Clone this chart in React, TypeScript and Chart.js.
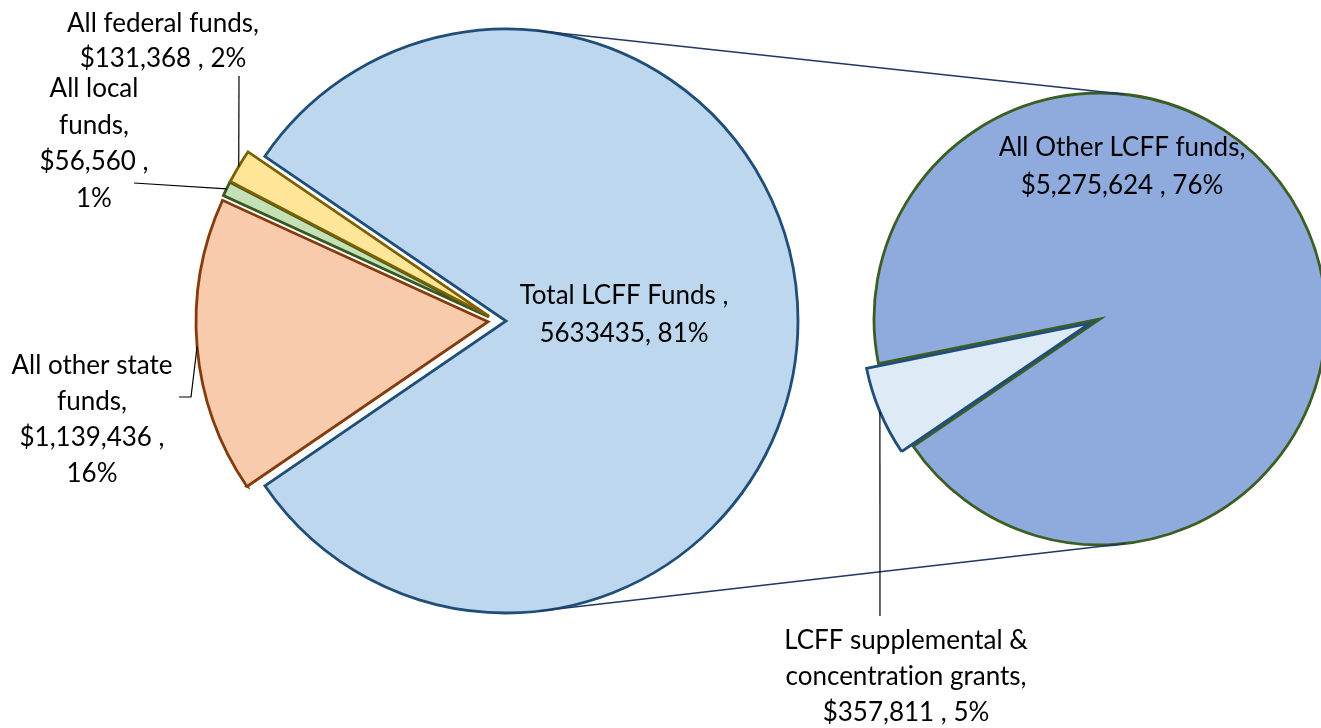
import { useEffect, useRef } from "react";
import { Chart, registerables } from "chart.js";

Chart.register(...registerables);

const W = 1321;
const H = 728;

// ---- data ----
const leftCategories = ["Total LCFF Funds", "All other state funds", "All local funds", "All federal funds"];
const leftValues = [5633435, 1139436, 56560, 131368];
const leftLabels = [
  ["Total LCFF Funds ,", "5633435, 81%"],
  ["All other state", "funds,", "$1,139,436 ,", "16%"],
  ["All local", "funds,", "$56,560 ,", "1%"],
  ["All federal funds,", "$131,368 , 2%"],
];

const rightCategories = ["All Other LCFF funds", "LCFF supplemental & concentration grants"];
const rightValues = [5275624, 357811];
const rightLabels = [
  ["All Other LCFF funds,", "$5,275,624 , 76%"],
  // zero-width non-joiner keeps the font from forming a "ti" ligature
  ["LCFF supplemental &", "concentrat\u200Cion grants,", "$357,811 , 5%"],
];

// ---- styles ----
const leftFill = ["#BDD7EE", "#F8CBAD", "#C5E0B4", "#FFE699"];
const leftBorder = ["#1F4E79", "#843C0C", "#385723", "#7F6000"];
const rightFill = ["#8FAADC", "#DEEBF7"];
const rightBorder = ["#3B5E23", "#1F4E79"];

const FONT = "Lato";
const FONT_SIZE = 26;
const BORDER_W = 2.8;

// ---- layout ----
const leftPie = { cx: 497, cy: 321, radius: [292, 292, 292, 292], explode: [9, 9, 9, 9], rotation: -55.7 };
const rightPie = { cx: 1100, cy: 319, radius: [226, 228], explode: [0, 10.8], rotation: 258.6 };

const leftLabelPos = [
  { x: 624, y: 296, lh: 38 },
  { x: 92, y: 366, lh: 36 },
  { x: 94, y: 89, lh: 36.5 },
  { x: 163, y: 24, lh: 35 },
];
const leftLeaders: (number[][] | null)[] = [null, [[179, 397], [191, 397]], [[134, 183]], [[239, 76]]];
const rightLabelPos = [
  { x: 1122, y: 148, lh: 38 },
  { x: 906, y: 641, lh: 36 },
];
const rightLeaders: (number[][] | null)[] = [null, [[880, 616]]];

function midAngle(values: number[], idx: number, rotationDeg: number) {
  const total = values.reduce((a, b) => a + b, 0);
  let cum = 0;
  for (let i = 0; i < idx; i++) cum += values[i];
  const startDeg = rotationDeg - 90 + (cum / total) * 360;
  return ((startDeg + (values[idx] / total) * 180) * Math.PI) / 180;
}

function makeSliceChart(
  canvas: HTMLCanvasElement,
  labels: string[],
  values: number[],
  fill: string[],
  border: string[],
  idx: number,
  pie: { cx: number; cy: number; radius: number[]; explode: number[]; rotation: number },
  plugins: any[] = []
) {
  const a = midAngle(values, idx, pie.rotation);
  const cx = pie.cx + pie.explode[idx] * Math.cos(a);
  const cy = pie.cy + pie.explode[idx] * Math.sin(a);
  const hw = Math.min(cx, W - cx) - 1;
  const hh = Math.min(cy, H - cy) - 1;
  return new Chart(canvas, {
    type: "pie",
    data: {
      labels,
      datasets: [
        {
          data: values,
          backgroundColor: fill.map((c, i) => (i === idx ? c : "rgba(0,0,0,0)")),
          borderColor: border.map((c, i) => (i === idx ? c : "rgba(0,0,0,0)")),
          borderWidth: values.map((_, i) => (i === idx ? BORDER_W : 0)),
          borderJoinStyle: "miter",
          radius: pie.radius[idx],
          rotation: pie.rotation,
          clip: false,
        } as any,
      ],
    },
    options: {
      responsive: false,
      animation: false,
      events: [],
      layout: {
        padding: { left: cx - hw, right: W - cx - hw, top: cy - hh, bottom: H - cy - hh },
      },
      plugins: { legend: { display: false }, tooltip: { enabled: false } },
    },
    plugins,
  });
}

function rimPoint(arc: any) {
  const p = arc.getProps(["x", "y", "startAngle", "endAngle", "outerRadius"], true);
  const m = (p.startAngle + p.endAngle) / 2;
  return { x: p.x + p.outerRadius * Math.cos(m), y: p.y + p.outerRadius * Math.sin(m) };
}

function drawLabel(ctx: CanvasRenderingContext2D, lines: string[], pos: { x: number; y: number; lh: number }) {
  ctx.save();
  ctx.fillStyle = "#000";
  ctx.font = `${FONT_SIZE}px ${FONT}`;
  ctx.textAlign = "center";
  ctx.textBaseline = "middle";
  lines.forEach((t, i) => ctx.fillText(t, pos.x, pos.y + i * pos.lh));
  ctx.restore();
}

function drawLeader(ctx: CanvasRenderingContext2D, pts: number[][], end: { x: number; y: number }) {
  ctx.save();
  ctx.strokeStyle = "#000";
  ctx.lineWidth = 1.2;
  ctx.beginPath();
  ctx.moveTo(pts[0][0], pts[0][1]);
  for (let i = 1; i < pts.length; i++) ctx.lineTo(pts[i][0], pts[i][1]);
  ctx.lineTo(end.x, end.y);
  ctx.stroke();
  ctx.restore();
}

export default function App() {
  const refs = useRef<(HTMLCanvasElement | null)[]>([]);

  useEffect(() => {
    const charts: Chart[] = [];
    const leftCharts: Chart[] = [];
    const rightCharts: Chart[] = [];
    let k = 0;
    for (let i = 0; i < leftValues.length; i++) {
      const c = makeSliceChart(refs.current[k++]!, leftCategories, leftValues, leftFill, leftBorder, i, leftPie);
      leftCharts.push(c);
      charts.push(c);
    }
    const overlay = {
      id: "overlay",
      afterDatasetsDraw(chart: Chart) {
        const ctx = chart.ctx;
        const all = [...rightCharts, chart];
        // connector tangent lines between the LCFF slice and the secondary pie
        const a1 = leftCharts[0].getDatasetMeta(0).data[0] as any;
        const a2 = all[0].getDatasetMeta(0).data[0] as any;
        const p1 = a1.getProps(["x", "y", "outerRadius"], true);
        const p2 = a2.getProps(["x", "y", "outerRadius"], true);
        const dx = p2.x - p1.x;
        const dy = p2.y - p1.y;
        const d = Math.hypot(dx, dy);
        const base = Math.atan2(dy, dx);
        const phi = Math.acos((p1.outerRadius - p2.outerRadius) / d);
        ctx.save();
        ctx.strokeStyle = "#1F3864";
        ctx.lineWidth = 1.6;
        for (const s of [-1, 1]) {
          const ang = base + s * phi;
          ctx.beginPath();
          ctx.moveTo(p1.x + p1.outerRadius * Math.cos(ang), p1.y + p1.outerRadius * Math.sin(ang));
          ctx.lineTo(p2.x + p2.outerRadius * Math.cos(ang), p2.y + p2.outerRadius * Math.sin(ang));
          ctx.stroke();
        }
        ctx.restore();

        leftCharts.forEach((lc, i) => {
          const arc = lc.getDatasetMeta(0).data[i];
          const pts = leftLeaders[i];
          if (pts) drawLeader(ctx, pts, rimPoint(arc));
          drawLabel(ctx, leftLabels[i], leftLabelPos[i]);
        });
        all.forEach((rc, i) => {
          const arc = rc.getDatasetMeta(0).data[i];
          const pts = rightLeaders[i];
          if (pts) drawLeader(ctx, pts, rimPoint(arc));
          drawLabel(ctx, rightLabels[i], rightLabelPos[i]);
        });
      },
    };
    for (let i = 0; i < rightValues.length; i++) {
      const last = i === rightValues.length - 1;
      const c = makeSliceChart(
        refs.current[k++]!,
        rightCategories,
        rightValues,
        rightFill,
        rightBorder,
        i,
        rightPie,
        last ? [overlay] : []
      );
      if (!last) rightCharts.push(c);
      charts.push(c);
    }
    return () => charts.forEach((c) => c.destroy());
  }, []);

  const n = leftValues.length + rightValues.length;
  return (
    <div style={{ position: "fixed", left: 0, top: 0, width: W, height: H, background: "#fff", overflow: "hidden" }}>
      {Array.from({ length: n }).map((_, i) => (
        <canvas
          key={i}
          ref={(el) => {
            refs.current[i] = el;
          }}
          width={W}
          height={H}
          style={{ position: "absolute", left: 0, top: 0, width: W, height: H }}
        />
      ))}
    </div>
  );
}
